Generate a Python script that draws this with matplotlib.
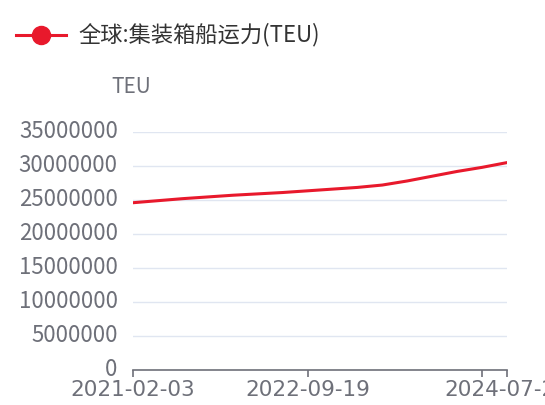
import matplotlib
matplotlib.use("Agg")
import matplotlib.pyplot as plt
import matplotlib.transforms as mtransforms
from matplotlib.lines import Line2D

plt.rcParams['font.family'] = ['Noto Sans CJK SC', 'DejaVu Sans']

# --- Data ---
dates = ["2021-02-03", "2021-04-29", "2021-07-24", "2021-10-18", "2022-01-12",
         "2022-04-08", "2022-07-01", "2022-09-19", "2022-12-12", "2023-03-06",
         "2023-05-29", "2023-08-21", "2023-11-13", "2024-02-05", "2024-04-29",
         "2024-07-22"]
capacity = [24.6e6, 24.9e6, 25.2e6, 25.45e6, 25.7e6, 25.9e6, 26.1e6, 26.35e6,
            26.6e6, 26.85e6, 27.2e6, 27.8e6, 28.5e6, 29.2e6, 29.8e6, 30.5e6]
series_name = "全球:集装箱船运力(TEU)"
y_unit = "TEU"
y_ticks = [0, 5000000, 10000000, 15000000, 20000000, 25000000, 30000000, 35000000]
tick_idx = [0, 7, 14, 15]
label_idx = [0, 7, 15]

RED = "#E8192C"
GRAY = "#6E7079"

fig = plt.figure(figsize=(5.45, 4.05), dpi=100)
ax = fig.add_axes([133 / 545, 35 / 405, 374 / 545, 238 / 405])

x = list(range(len(dates)))
ax.plot(x, capacity, color=RED, lw=2.2, solid_capstyle="round")

ax.set_xlim(0, len(dates) - 1)
ax.set_ylim(0, 35000000)
ax.set_yticks(y_ticks)
ax.set_yticklabels([str(v) for v in y_ticks])
ax.tick_params(axis="y", length=0, pad=11, labelsize=16, labelcolor=GRAY)
# nudge the value labels up a touch, like the reference
up = mtransforms.ScaledTranslation(0, 3 / 100, fig.dpi_scale_trans)
for lab in ax.get_yticklabels():
    lab.set_transform(lab.get_transform() + up)

ax.set_xticks(tick_idx)
ax.set_xticklabels([dates[i] if i in label_idx else "" for i in tick_idx],
                   family="DejaVu Sans")
ax.tick_params(axis="x", length=5, width=1.2, color=GRAY, pad=2,
               labelsize=15.5, labelcolor=GRAY)

ax.grid(axis="y", color="#E0E6F1", lw=1)
ax.set_axisbelow(True)
for s in ["left", "right", "top"]:
    ax.spines[s].set_visible(False)
ax.spines["bottom"].set_color(GRAY)
ax.spines["bottom"].set_linewidth(1.2)

# axis name
fig.text(131 / 545, 1 - 87 / 405, y_unit, ha="center", va="center",
         fontsize=15, color=GRAY)

# legend drawn by hand
ly = 1 - 35 / 405
fig.add_artist(Line2D([16 / 545, 66 / 545], [ly, ly], color=RED, lw=2.2,
                      transform=fig.transFigure))
fig.add_artist(Line2D([41 / 545], [ly], color=RED, marker="o", markersize=13,
                      transform=fig.transFigure))
fig.text(78 / 545, ly, series_name, ha="left", va="center",
         fontsize=16, color="#333333")

fig.savefig("out.png", dpi=100)
